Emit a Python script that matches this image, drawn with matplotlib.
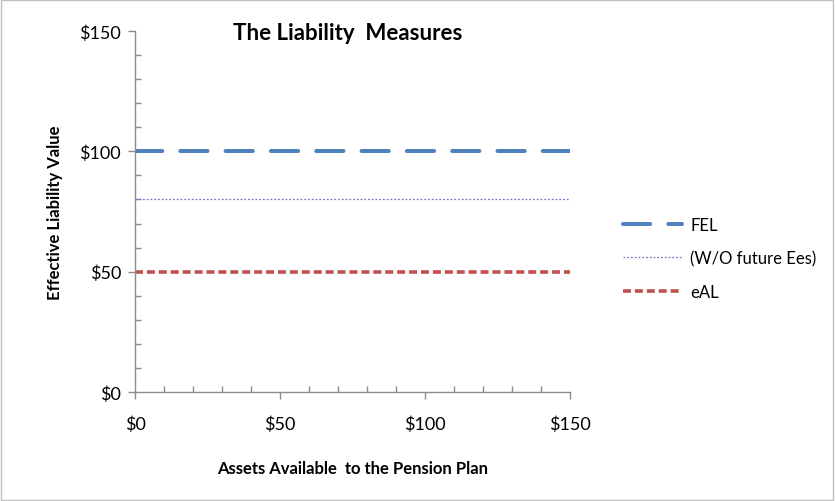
import matplotlib.pyplot as plt
from matplotlib.ticker import MultipleLocator, FuncFormatter

# data
assets = [0, 150]
fel = [100, 100]
wo_future = [80, 80]
eal = [50, 50]

plt.rcParams['font.family'] = ['Lato', 'DejaVu Sans']

fig = plt.figure(figsize=(8.35, 5.02), dpi=100)
ax = fig.add_axes([0.1617, 0.2171, 0.5210, 0.7192])

ax.plot(assets, fel, color='#4F81BD', linewidth=2.9, dashes=(6.75, 4.5), dash_capstyle='round',
        label='FEL')
ax.plot(assets, wo_future, color='#8A6FC8', linewidth=0.9, dashes=(1.5, 1.5),
        label='(W/O future Ees)')
ax.plot(assets, eal, color='#C0504D', linewidth=2.6, dashes=(2.2, 1.1), label='eAL')

ax.set_xlim(0, 150)
ax.set_ylim(0, 150)

money = FuncFormatter(lambda v, p: f'${v:.0f}')
ax.xaxis.set_major_locator(MultipleLocator(50))
ax.xaxis.set_minor_locator(MultipleLocator(10))
ax.yaxis.set_major_locator(MultipleLocator(50))
ax.yaxis.set_minor_locator(MultipleLocator(10))
ax.xaxis.set_major_formatter(money)
ax.yaxis.set_major_formatter(money)

for side in ['top', 'right']:
    ax.spines[side].set_visible(False)
for side in ['left', 'bottom']:
    ax.spines[side].set_color('#8c8c8c')
    ax.spines[side].set_linewidth(1.0)

ax.tick_params(which='major', direction='out', length=5, width=1, color='#8c8c8c',
               labelsize=13, pad=12)
ax.tick_params(which='minor', direction='in', length=4, width=1, color='#8c8c8c')
ax.tick_params(axis='y', which='major', pad=5)

ax.set_title('The Liability  Measures', fontsize=16, fontweight='bold', x=0.49, y=0.955)
ax.set_xlabel('Assets Available  to the Pension Plan', fontsize=12, fontweight='bold', labelpad=20)
ax.set_ylabel('Effective Liability Value', fontsize=12, fontweight='bold', labelpad=12)

ax.legend(loc='upper left', bbox_to_anchor=(1.088, 0.527), frameon=False, fontsize=12,
          handlelength=3.5, handletextpad=0.5, labelspacing=1.04)

# thin outer frame
fig.add_artist(plt.Rectangle((0.001, 0.002), 0.997, 0.996, transform=fig.transFigure,
                             fill=False, edgecolor='#bfbfbf', linewidth=1))

fig.savefig('out.png', dpi=100)
